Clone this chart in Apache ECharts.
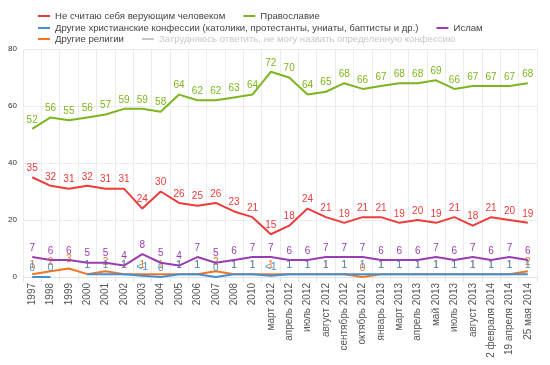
<!DOCTYPE html>
<html>
<head>
<meta charset="utf-8">
<script src="https://cdn.jsdelivr.net/npm/echarts@6/dist/echarts.min.js"></script>
<style>
html,body{margin:0;padding:0;background:#fff;}
#chart{width:550px;height:365px;}
</style>
</head>
<body>
<div id="chart"></div>
<script>
const categories = ['1997','1998','1999','2000','2001','2002','2003','2004','2005','2006','2007','2008','2010',
  'март 2012','апрель 2012','июль 2012','август 2012','сентябрь 2012','октябрь 2012','январь 2013','март 2013',
  'апрель 2013','май 2013','июль 2013','август 2013','2 февраля 2014','19 апреля 2014','25 мая 2014'];

const nonBelievers = [35,32,31,32,31,31,24,30,26,25,26,23,21,15,18,24,21,19,21,21,19,20,19,21,18,21,20,19];
const orthodoxy    = [52,56,55,56,57,59,59,58,64,62,62,63,64,72,70,64,65,68,66,67,68,68,69,66,67,67,67,68];
const otherChristian = [0,0,null,1,1,1,0.4,0,1,1,0,1,1,0.4,1,1,1,1,1,1,1,1,1,1,1,1,1,1];
const islam        = [7,6,6,5,5,4,8,5,4,7,5,6,7,7,6,6,7,7,7,6,6,6,7,6,7,6,7,6];
const otherReligions = [1,2,3,1,2,1,1,1,1,1,2,1,1,1,1,1,1,1,0,1,1,1,1,1,1,1,1,2];
const undecided = [];

const yTicks = [0,20,40,60,80];

const names = {
  nb: 'Не считаю себя верующим человеком',
  or: 'Православие',
  oc: 'Другие христианские конфессии (католики, протестанты, униаты, баптисты и др.)',
  is: 'Ислам',
  orl: 'Другие религии',
  un: 'Затрудняюсь ответить, не могу назвать определенную конфессию'
};
const colors = {
  nb: '#ee3b3b', or: '#7db51e', oc: '#4190d4', is: '#9a3db3', orl: '#f4741f', un: '#bbbbbb'
};

const FONT = 'Arial, "Liberation Sans", Helvetica, sans-serif';

function mkSeries(key, data, z) {
  return {
    name: names[key],
    type: 'line',
    data: data,
    z: z,
    symbol: 'circle',
    symbolSize: 0.01,
    showSymbol: true,
    connectNulls: false,
    lineStyle: { width: 2, color: colors[key] },
    itemStyle: { color: colors[key] },
    emphasis: { disabled: true },
    labelLayout: { hideOverlap: false },
    label: {
      show: true,
      position: 'top',
      distance: 4,
      fontSize: 10,
      fontFamily: FONT,
      color: colors[key],
      formatter: p => (p.value > 0 && p.value < 1) ? '<1' : String(p.value)
    }
  };
}

const legendBase = {
  orient: 'horizontal',
  left: 38,
  padding: 0,
  icon: 'rect',
  itemWidth: 12,
  itemHeight: 2,
  itemGap: 18,
  inactiveColor: '#c8c8c8',
  textStyle: { fontSize: 9.6, color: '#444', fontFamily: FONT }
};

const chart = echarts.init(document.getElementById('chart'), null, { renderer: 'canvas' });
chart.setOption({
  animation: false,
  backgroundColor: '#fff',
  legend: [
    Object.assign({}, legendBase, { top: 11, data: [names.nb, names.or] }),
    Object.assign({}, legendBase, { top: 23, data: [names.oc, names.is] }),
    Object.assign({}, legendBase, { top: 34, data: [names.orl, names.un], selected: { [names.un]: false } })
  ],
  grid: { left: 23, right: 13, top: 49, bottom: 88, containLabel: false },
  xAxis: {
    type: 'category',
    data: categories,
    boundaryGap: true,
    axisLine: { show: true, lineStyle: { color: '#dde4ec', width: 1 } },
    axisTick: { show: true, length: 5, lineStyle: { color: '#e2e2e2' } },
    axisLabel: { rotate: 90, fontSize: 10, color: '#555', fontFamily: FONT, margin: 6, interval: 0 },
    splitLine: { show: true, lineStyle: { color: '#ececec', width: 1 } }
  },
  yAxis: {
    type: 'value',
    min: yTicks[0],
    max: yTicks[yTicks.length - 1],
    interval: 20,
    axisLine: { show: false },
    axisTick: { show: false },
    axisLabel: { fontSize: 8, color: '#333', fontFamily: FONT, margin: 6 },
    splitLine: { show: true, lineStyle: { color: '#ececec', width: 1 } }
  },
  series: [
    mkSeries('nb', nonBelievers, 5),
    mkSeries('or', orthodoxy, 5),
    mkSeries('orl', otherReligions, 3),
    mkSeries('oc', otherChristian, 4),
    mkSeries('is', islam, 5),
    mkSeries('un', undecided, 2)
  ]
});
</script>
</body>
</html>
